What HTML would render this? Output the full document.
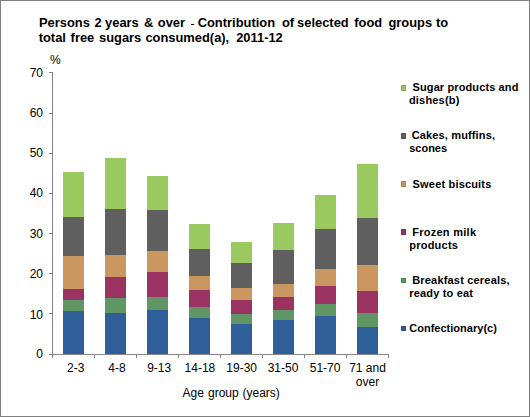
<!DOCTYPE html><html><head><meta charset="utf-8"><style>
html,body{margin:0;padding:0;}
body{width:530px;height:417px;position:relative;overflow:hidden;background:#fff;font-family:"Liberation Sans",sans-serif;color:#000;}
.frame{position:absolute;left:0;top:0;width:528px;height:415px;border:1px solid #808080;}
.a{position:absolute;}
.t{position:absolute;white-space:pre;line-height:1;}
.ti{font-size:12.9px;font-weight:bold;}
.yl{font-size:12px;text-align:right;width:40px;}
.xl{font-size:12px;text-align:center;width:60px;line-height:14px;}
.lg{font-size:11px;font-weight:bold;}
</style></head><body><div class="frame"></div>

<div class="t ti" style="left:39.0px;top:17px;">Persons</div>
<div class="t ti" style="left:94.6px;top:17px;">2</div>
<div class="t ti" style="left:105.1px;top:17px;">years</div>
<div class="t ti" style="left:144.1px;top:17px;">&amp;</div>
<div class="t ti" style="left:157.8px;top:17px;">over</div>
<div class="t ti" style="left:197.7px;top:17px;">Contribution</div>
<div class="t ti" style="left:281.9px;top:17px;">of</div>
<div class="t ti" style="left:297.1px;top:17px;">selected</div>
<div class="t ti" style="left:354.3px;top:17px;">food</div>
<div class="t ti" style="left:388.4px;top:17px;">groups</div>
<div class="t ti" style="left:435.9px;top:17px;">to</div>
<div class="t ti" style="left:38.7px;top:32px;">total</div>
<div class="t ti" style="left:70.6px;top:32px;">free</div>
<div class="t ti" style="left:99.0px;top:32px;">sugars</div>
<div class="t ti" style="left:145.4px;top:32px;">consumed(a),</div>
<div class="t ti" style="left:236.2px;top:32px;">2011-12</div>
<div class="a" style="left:191px;top:24px;width:3px;height:1px;background:#000;"></div>
<div class="t" style="left:50px;top:54px;font-size:12px;">%</div>
<div class="a" style="left:52px;top:72px;width:1px;height:286px;background:#868686;"></div>
<div class="a" style="left:49px;top:354px;width:3px;height:1px;background:#868686;"></div>
<div class="t yl" style="left:3px;top:348px;">0</div>
<div class="a" style="left:49px;top:313px;width:3px;height:1px;background:#868686;"></div>
<div class="t yl" style="left:3px;top:309px;">10</div>
<div class="a" style="left:49px;top:273px;width:3px;height:1px;background:#868686;"></div>
<div class="t yl" style="left:3px;top:268px;">20</div>
<div class="a" style="left:49px;top:233px;width:3px;height:1px;background:#868686;"></div>
<div class="t yl" style="left:3px;top:228px;">30</div>
<div class="a" style="left:49px;top:193px;width:3px;height:1px;background:#868686;"></div>
<div class="t yl" style="left:3px;top:187px;">40</div>
<div class="a" style="left:49px;top:153px;width:3px;height:1px;background:#868686;"></div>
<div class="t yl" style="left:3px;top:147px;">50</div>
<div class="a" style="left:49px;top:113px;width:3px;height:1px;background:#868686;"></div>
<div class="t yl" style="left:3px;top:107px;">60</div>
<div class="a" style="left:49px;top:72px;width:3px;height:1px;background:#868686;"></div>
<div class="t yl" style="left:3px;top:67px;">70</div>
<div class="a" style="left:52px;top:354px;width:337px;height:1px;background:#868686;"></div>
<div class="a" style="left:52px;top:354px;width:1px;height:4px;background:#868686;"></div>
<div class="a" style="left:94px;top:354px;width:1px;height:4px;background:#868686;"></div>
<div class="a" style="left:136px;top:354px;width:1px;height:4px;background:#868686;"></div>
<div class="a" style="left:178px;top:354px;width:1px;height:4px;background:#868686;"></div>
<div class="a" style="left:220px;top:354px;width:1px;height:4px;background:#868686;"></div>
<div class="a" style="left:262px;top:354px;width:1px;height:4px;background:#868686;"></div>
<div class="a" style="left:304px;top:354px;width:1px;height:4px;background:#868686;"></div>
<div class="a" style="left:346px;top:354px;width:1px;height:4px;background:#868686;"></div>
<div class="a" style="left:388px;top:354px;width:1px;height:4px;background:#868686;"></div>
<div class="t xl" style="left:45.7px;top:361px;">2-3</div>
<div class="t xl" style="left:87.0px;top:361px;">4-8</div>
<div class="t xl" style="left:129.2px;top:361px;">9-13</div>
<div class="t xl" style="left:169.9px;top:361px;">14-18</div>
<div class="t xl" style="left:211.7px;top:361px;">19-30</div>
<div class="t xl" style="left:253.0px;top:361px;">31-50</div>
<div class="t xl" style="left:295.1px;top:361px;">51-70</div>
<div class="t xl" style="left:337.5px;top:361px;">71 and
over</div>
<div class="t" style="left:182.5px;top:387px;font-size:12px;">Age</div>
<div class="t" style="left:208.0px;top:387px;font-size:12px;">group</div>
<div class="t" style="left:242.5px;top:387px;font-size:12px;">(years)</div>
<div class="a" style="left:63px;top:172px;width:21px;height:45px;background:#99C95F;"></div>
<div class="a" style="left:63px;top:217px;width:21px;height:39px;background:#5F5F5F;"></div>
<div class="a" style="left:63px;top:256px;width:21px;height:33px;background:#C9975F;"></div>
<div class="a" style="left:63px;top:289px;width:21px;height:11px;background:#9A3361;"></div>
<div class="a" style="left:63px;top:300px;width:21px;height:11px;background:#5F9663;"></div>
<div class="a" style="left:63px;top:311px;width:21px;height:43px;background:#2F5F98;"></div>
<div class="a" style="left:105px;top:158px;width:21px;height:51px;background:#99C95F;"></div>
<div class="a" style="left:105px;top:209px;width:21px;height:46px;background:#5F5F5F;"></div>
<div class="a" style="left:105px;top:255px;width:21px;height:22px;background:#C9975F;"></div>
<div class="a" style="left:105px;top:277px;width:21px;height:21px;background:#9A3361;"></div>
<div class="a" style="left:105px;top:298px;width:21px;height:15px;background:#5F9663;"></div>
<div class="a" style="left:105px;top:313px;width:21px;height:41px;background:#2F5F98;"></div>
<div class="a" style="left:147px;top:176px;width:21px;height:34px;background:#99C95F;"></div>
<div class="a" style="left:147px;top:210px;width:21px;height:41px;background:#5F5F5F;"></div>
<div class="a" style="left:147px;top:251px;width:21px;height:21px;background:#C9975F;"></div>
<div class="a" style="left:147px;top:272px;width:21px;height:25px;background:#9A3361;"></div>
<div class="a" style="left:147px;top:297px;width:21px;height:13px;background:#5F9663;"></div>
<div class="a" style="left:147px;top:310px;width:21px;height:44px;background:#2F5F98;"></div>
<div class="a" style="left:189px;top:224px;width:21px;height:25px;background:#99C95F;"></div>
<div class="a" style="left:189px;top:249px;width:21px;height:27px;background:#5F5F5F;"></div>
<div class="a" style="left:189px;top:276px;width:21px;height:14px;background:#C9975F;"></div>
<div class="a" style="left:189px;top:290px;width:21px;height:17px;background:#9A3361;"></div>
<div class="a" style="left:189px;top:307px;width:21px;height:11px;background:#5F9663;"></div>
<div class="a" style="left:189px;top:318px;width:21px;height:36px;background:#2F5F98;"></div>
<div class="a" style="left:231px;top:242px;width:21px;height:21px;background:#99C95F;"></div>
<div class="a" style="left:231px;top:263px;width:21px;height:25px;background:#5F5F5F;"></div>
<div class="a" style="left:231px;top:288px;width:21px;height:12px;background:#C9975F;"></div>
<div class="a" style="left:231px;top:300px;width:21px;height:14px;background:#9A3361;"></div>
<div class="a" style="left:231px;top:314px;width:21px;height:10px;background:#5F9663;"></div>
<div class="a" style="left:231px;top:324px;width:21px;height:30px;background:#2F5F98;"></div>
<div class="a" style="left:273px;top:223px;width:21px;height:27px;background:#99C95F;"></div>
<div class="a" style="left:273px;top:250px;width:21px;height:34px;background:#5F5F5F;"></div>
<div class="a" style="left:273px;top:284px;width:21px;height:13px;background:#C9975F;"></div>
<div class="a" style="left:273px;top:297px;width:21px;height:13px;background:#9A3361;"></div>
<div class="a" style="left:273px;top:310px;width:21px;height:10px;background:#5F9663;"></div>
<div class="a" style="left:273px;top:320px;width:21px;height:34px;background:#2F5F98;"></div>
<div class="a" style="left:315px;top:195px;width:21px;height:34px;background:#99C95F;"></div>
<div class="a" style="left:315px;top:229px;width:21px;height:40px;background:#5F5F5F;"></div>
<div class="a" style="left:315px;top:269px;width:21px;height:17px;background:#C9975F;"></div>
<div class="a" style="left:315px;top:286px;width:21px;height:18px;background:#9A3361;"></div>
<div class="a" style="left:315px;top:304px;width:21px;height:12px;background:#5F9663;"></div>
<div class="a" style="left:315px;top:316px;width:21px;height:38px;background:#2F5F98;"></div>
<div class="a" style="left:357px;top:164px;width:21px;height:54px;background:#99C95F;"></div>
<div class="a" style="left:357px;top:218px;width:21px;height:47px;background:#5F5F5F;"></div>
<div class="a" style="left:357px;top:265px;width:21px;height:26px;background:#C9975F;"></div>
<div class="a" style="left:357px;top:291px;width:21px;height:22px;background:#9A3361;"></div>
<div class="a" style="left:357px;top:313px;width:21px;height:14px;background:#5F9663;"></div>
<div class="a" style="left:357px;top:327px;width:21px;height:27px;background:#2F5F98;"></div>
<div class="a" style="left:401px;top:85px;width:5px;height:6px;box-sizing:border-box;border:1px solid #82aa50;background:#99C95F;"></div>
<div class="t lg" style="left:412.5px;top:82.4px;letter-spacing:0.118px;">Sugar products and</div>
<div class="t lg" style="left:408.9px;top:94.9px;letter-spacing:0.200px;">dishes(b)</div>
<div class="a" style="left:401px;top:133px;width:5px;height:6px;box-sizing:border-box;border:1px solid #505050;background:#5F5F5F;"></div>
<div class="t lg" style="left:411.7px;top:130.4px;letter-spacing:0.143px;">Cakes, muffins,</div>
<div class="t lg" style="left:409.2px;top:142.9px;letter-spacing:0.000px;">scones</div>
<div class="a" style="left:401px;top:181px;width:5px;height:6px;box-sizing:border-box;border:1px solid #aa8050;background:#C9975F;"></div>
<div class="t lg" style="left:412.6px;top:179.4px;letter-spacing:0.177px;">Sweet biscuits</div>
<div class="a" style="left:401px;top:229px;width:5px;height:6px;box-sizing:border-box;border:1px solid #822b52;background:#9A3361;"></div>
<div class="t lg" style="left:412.2px;top:227.4px;letter-spacing:0.270px;">Frozen milk</div>
<div class="t lg" style="left:409.2px;top:239.9px;letter-spacing:0.243px;">products</div>
<div class="a" style="left:401px;top:278px;width:5px;height:5px;box-sizing:border-box;border:1px solid #507f54;background:#5F9663;"></div>
<div class="t lg" style="left:412.2px;top:275.4px;letter-spacing:0.188px;">Breakfast cereals,</div>
<div class="t lg" style="left:409.3px;top:287.9px;letter-spacing:0.173px;">ready to eat</div>
<div class="a" style="left:401px;top:326px;width:5px;height:5px;box-sizing:border-box;border:1px solid #275081;background:#2F5F98;"></div>
<div class="t lg" style="left:409.2px;top:323.4px;letter-spacing:0.020px;">Confectionary(c)</div>
</body></html>
